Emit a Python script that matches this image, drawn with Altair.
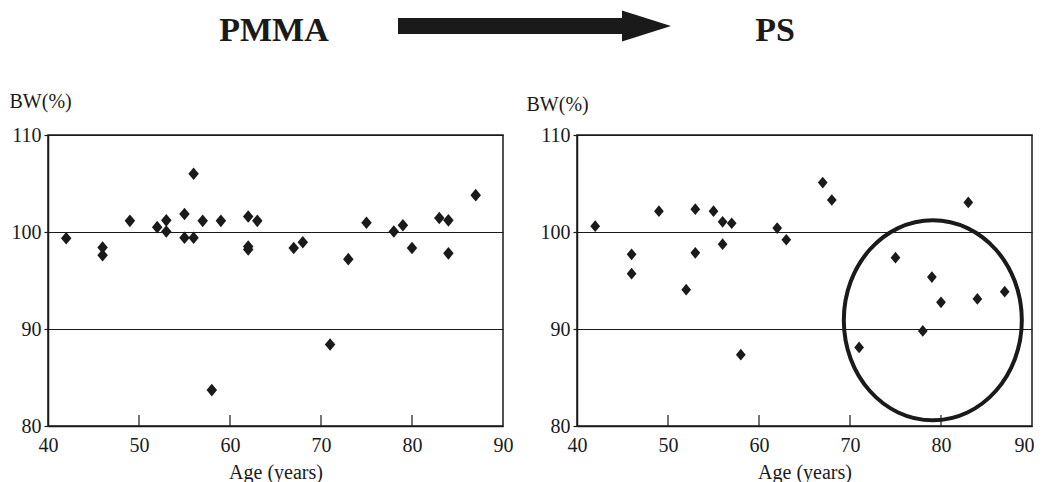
import altair as alt
import pandas as pd

# ---- data ----
PMMA_AGE = [42, 46, 46, 49, 52, 53, 53, 55, 55, 56, 56, 57, 58, 59, 62, 62, 62,
            63, 67, 68, 71, 73, 75, 78, 79, 80, 83, 84, 84, 87]
PMMA_BW = [99.35, 98.4, 97.6, 101.15, 100.5, 101.2, 100.05, 101.85, 99.4, 106.0,
           99.4, 101.15, 83.7, 101.15, 101.6, 98.5, 98.2, 101.15, 98.35, 98.95,
           88.4, 97.2, 100.95, 100.05, 100.7, 98.35, 101.45, 101.2, 97.8, 103.8]

PS_AGE = [42, 46, 46, 49, 52, 53, 53, 55, 56, 56, 57, 58, 62, 63, 67, 68, 71,
          75, 78, 79, 80, 83, 84, 87]
PS_BW = [100.6, 97.7, 95.7, 102.15, 94.05, 102.35, 97.85, 102.15, 101.05, 98.75,
         100.9, 87.35, 100.4, 99.2, 105.1, 103.3, 88.1, 97.35, 89.8, 95.35,
         92.75, 103.05, 93.1, 93.85]

X_TICKS = [40, 50, 60, 70, 80, 90]
Y_TICKS = [80, 90, 100, 110]
INNER_TICKS = [50, 60, 70, 80]
CIRCLE_AGE = [79.1]
CIRCLE_BW = [90.9]
HEAD_LEFT = ["PMMA"]
HEAD_RIGHT = ["PS"]

# ---- styling ----
W, H = 455, 291
INK = "#1a1a1a"
FONT = "Liberation Serif"
DIAMOND = "M0,-1.2L1,0L0,1.2L-1,0Z"
ELLIPSE = ("M-1,0C-1,-0.621 -0.5523,-1.124 0,-1.124C0.5523,-1.124 1,-0.621 1,0"
           "C1,0.621 0.5523,1.124 0,1.124C-0.5523,1.124 -1,0.621 -1,0Z")
TRIANGLE = "M-1,-0.633L1,0L-1,0.633Z"

xs = alt.Scale(domain=[40, 90], nice=False, zero=False)
ys = alt.Scale(domain=[80, 110], nice=False, zero=False)


def axes(title_x, title_y, last_right):
    if last_right:
        align = {"condition": {"test": "datum.value >= 90", "value": "right"},
                 "value": "center"}
        offset = {"condition": {"test": "datum.value >= 90", "value": 2},
                  "value": 0}
    else:
        align, offset = "center", 0
    xaxis = alt.Axis(values=X_TICKS, ticks=False, grid=False, labelPadding=9,
                     labelFlush=False, labelAlign=align, labelOffset=offset,
                     format="d", title="Age (years)", titleY=52.5,
                     titleBaseline="alphabetic")
    yaxis = alt.Axis(values=Y_TICKS, grid=True, tickSize=4, labelPadding=3,
                     labelFlush=False, format="d", title="BW(%)", titleAngle=0,
                     titleX=title_x, titleY=title_y, titleAlign="left",
                     titleBaseline="alphabetic")
    return xaxis, yaxis


def panel(ages, bws, title_x, title_y, dsize, last_right, extras_fn):
    xaxis, yaxis = axes(title_x, title_y, last_right)
    df = pd.DataFrame({"age": ages, "bw": bws})
    ticks = alt.Chart(pd.DataFrame({"age": INNER_TICKS})).mark_rule(
        color=INK, strokeWidth=1.2
    ).encode(
        x=alt.X("age:Q", scale=xs, axis=xaxis),
        y=alt.value(H),
        y2=alt.value(H - 11),
    )
    pts = alt.Chart(df).mark_point(
        shape=DIAMOND, filled=True, size=dsize, color=INK, opacity=1, strokeWidth=0
    ).encode(
        x=alt.X("age:Q", scale=xs, axis=xaxis),
        y=alt.Y("bw:Q", scale=ys, axis=yaxis),
    )
    return alt.layer(ticks, pts, *extras_fn(xaxis, yaxis)).properties(width=W, height=H)


one = pd.DataFrame({"a": [0]})


def title_layers(xaxis, yaxis):
    shaft = alt.Chart(one).mark_rule(color=INK, strokeWidth=16, strokeCap="butt").encode(
        x=alt.value(350), x2=alt.value(576), y=alt.value(-109)
    )
    head = alt.Chart(one).mark_point(
        shape=TRIANGLE, size=2401, filled=True, color=INK, opacity=1, strokeWidth=0
    ).encode(x=alt.value(598.5), y=alt.value(-109))
    txt_l = alt.Chart(pd.DataFrame({"label": HEAD_LEFT})).mark_text(
        font=FONT, fontSize=34, fontWeight="bold", color=INK, align="center",
        baseline="alphabetic"
    ).encode(text="label:N", x=alt.value(226), y=alt.value(-94.5))
    txt_r = alt.Chart(pd.DataFrame({"label": HEAD_RIGHT})).mark_text(
        font=FONT, fontSize=34, fontWeight="bold", color=INK, align="center",
        baseline="alphabetic"
    ).encode(text="label:N", x=alt.value(727), y=alt.value(-94.5))
    return [shaft, head, txt_l, txt_r]


def ellipse_layers(xaxis, yaxis):
    ell = alt.Chart(pd.DataFrame({"age": CIRCLE_AGE, "bw": CIRCLE_BW})).mark_point(
        shape=ELLIPSE, size=31684, filled=False, stroke=INK, strokeWidth=4, opacity=1
    ).encode(
        x=alt.X("age:Q", scale=xs, axis=xaxis),
        y=alt.Y("bw:Q", scale=ys, axis=yaxis),
    )
    return [ell]


left = panel(PMMA_AGE, PMMA_BW, -39, -28, 110, False, title_layers)
right = panel(PS_AGE, PS_BW, -51, -25, 95, True, ellipse_layers)

chart = alt.hconcat(left, right, spacing=74, bounds="flush").properties(
    padding={"left": 0, "top": 1, "right": 0, "bottom": 4}
).configure_view(
    stroke=INK, strokeWidth=1.5
).configure_axis(
    labelFont=FONT, titleFont=FONT, labelFontSize=20, titleFontSize=20,
    titleFontWeight="normal", labelColor=INK, titleColor=INK,
    domainColor=INK, domainWidth=1.5, tickColor=INK, tickWidth=1.2,
    gridColor=INK, gridWidth=1, gridOpacity=1,
)

chart.save("out.html", embed_options={"renderer": "svg", "actions": False})
